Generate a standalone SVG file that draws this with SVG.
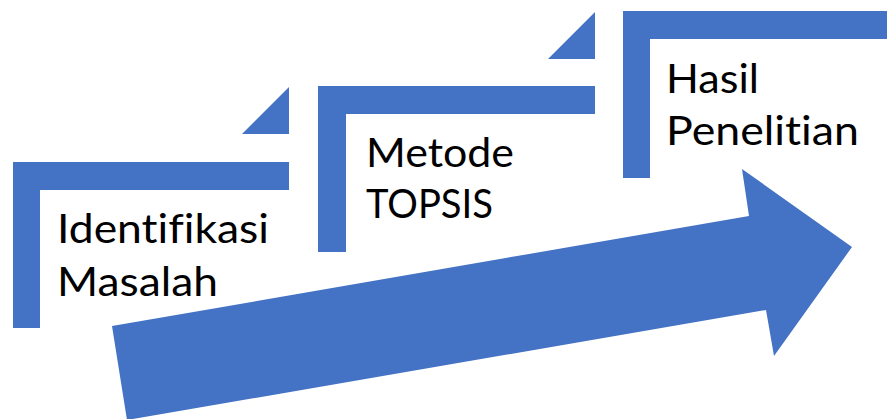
<svg xmlns="http://www.w3.org/2000/svg" width="887" height="419" viewBox="0 0 887 419">
  <style>
    .shape { fill: #4472C4; }
    .label { font-family: Lato, "Noto Sans", "Liberation Sans", sans-serif; font-size: 41px; fill: #000000; font-variant-ligatures: none; }
  </style>
  <rect x="0" y="0" width="887" height="419" fill="#ffffff"/>
  <g id="connectors">
    <polygon id="big-arrow" class="shape" points="112,326 749,216 742,169 852,247 774,356 766,310 127,420"/>
  </g>
  <g id="step1">
    <polygon class="shape" points="13,162 289,162 289,190 40,190 40,328 13,328"/>
    <polygon class="shape" points="289,87 289,134 242,134"/>
    <text class="label" x="57" y="243" textLength="212" lengthAdjust="spacingAndGlyphs">Identifikasi</text>
    <text class="label" x="57" y="296" textLength="161" lengthAdjust="spacingAndGlyphs">Masalah</text>
  </g>
  <g id="step2">
    <polygon class="shape" points="318,86 595,86 595,114 346,114 346,252 318,252"/>
    <polygon class="shape" points="595,12 595,59 548,59"/>
    <text class="label" x="366" y="167" textLength="148" lengthAdjust="spacingAndGlyphs">Metode</text>
    <text class="label" x="366" y="218" textLength="127" lengthAdjust="spacingAndGlyphs">TOPSIS</text>
  </g>
  <g id="step3">
    <polygon class="shape" points="623,11 900,11 900,39 650,39 650,178 623,178"/>
    <text class="label" x="666" y="93" textLength="93" lengthAdjust="spacingAndGlyphs">Hasil</text>
    <text class="label" x="666" y="145" textLength="193" lengthAdjust="spacingAndGlyphs">Penelitian</text>
  </g>
</svg>
